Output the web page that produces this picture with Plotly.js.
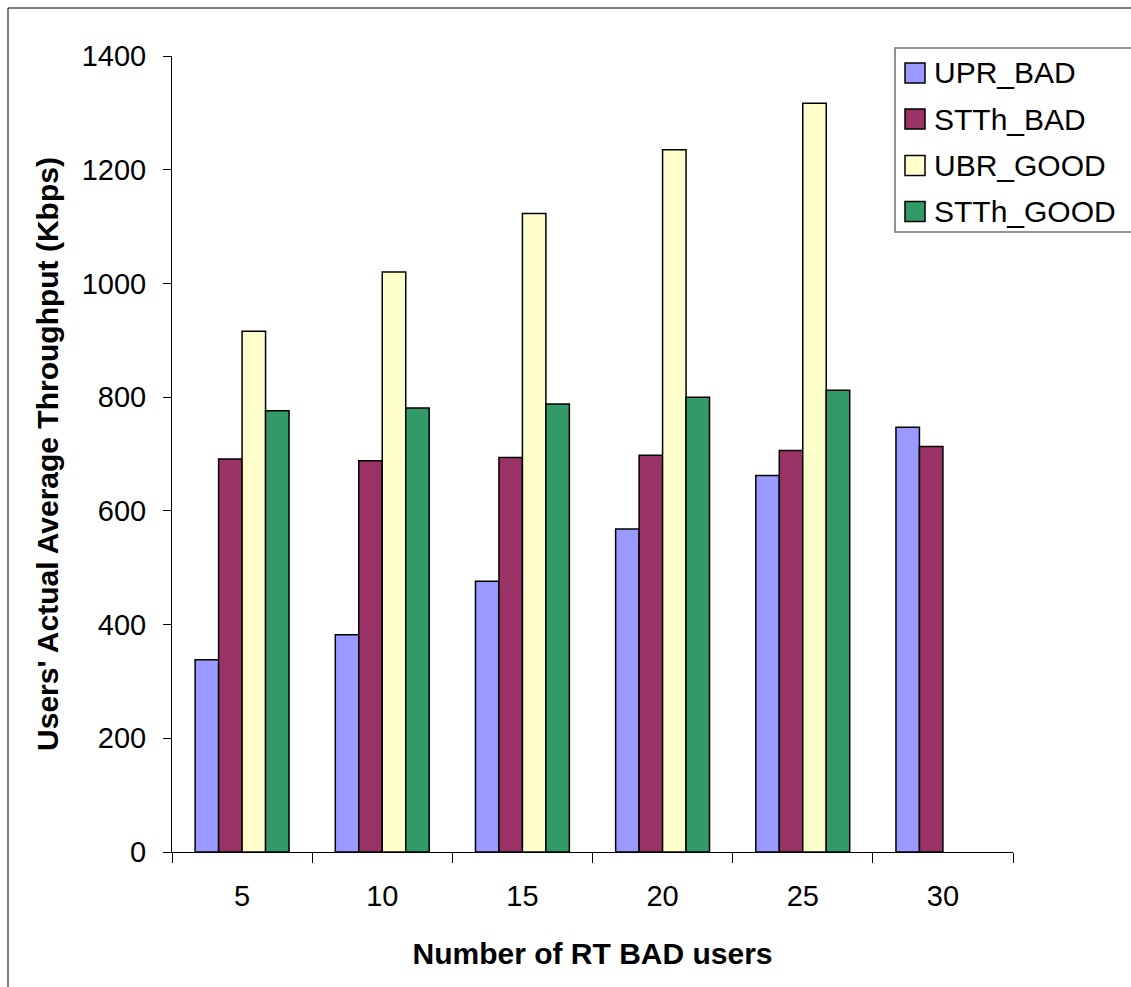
<!DOCTYPE html>
<html>
<head>
<meta charset="utf-8">
<script src="https://cdn.plot.ly/plotly-3.0.1.min.js"></script>
<style>
  html, body { margin: 0; padding: 0; background: #fff; }
  #chart { width: 1131px; height: 987px; }
</style>
</head>
<body>
<div id="chart"></div>
<script>
// Number of RT BAD users on the x axis
const categories = ['5', '10', '15', '20', '25', '30'];

// Series names and values (Kbps)
const seriesNames = ['UPR_BAD', 'STTh_BAD', 'UBR_GOOD', 'STTh_GOOD'];
const uprBad   = [338, 382, 476, 568, 662, 747];
const stthBad  = [691, 688, 694, 698, 706, 713];
const ubrGood  = [916, 1020, 1123, 1235, 1317, null];
const stthGood = [776, 781, 788, 800, 812, null];

const yTickVals = [0, 200, 400, 600, 800, 1000, 1200, 1400];

const colors = ['#9999FF', '#993366', '#FFFFCC', '#339966'];
const seriesValues = [uprBad, stthBad, ubrGood, stthGood];

// Page geometry (pixels)
const W = 1131, H = 987;
const M = { l: 172, r: 118, t: 56, b: 135 };
const plotW = W - M.l - M.r;
const plotH = H - M.t - M.b;
const px = x => (x - M.l) / plotW;          // pixel x -> paper x
const py = y => (H - M.b - y) / plotH;      // pixel y -> paper y

const FONT = '"Liberation Sans", Arial, Helvetica, sans-serif';

const traces = seriesNames.map((name, i) => ({
  type: 'bar',
  name: name,
  x: categories,
  y: seriesValues[i],
  marker: { color: colors[i], line: { color: '#000000', width: 1.5 } },
  showlegend: false
}));

// Outer frame and boxed legend on the right
const shapes = [
  { type: 'line', xref: 'paper', yref: 'paper', x0: px(8), x1: px(1140), y0: py(8), y1: py(8),
    line: { color: '#000', width: 1 } },
  { type: 'line', xref: 'paper', yref: 'paper', x0: px(8), x1: px(8), y0: py(8), y1: py(995),
    line: { color: '#000', width: 1 } },
  { type: 'rect', xref: 'paper', yref: 'paper', x0: px(895), x1: px(1145), y0: py(48), y1: py(232),
    line: { color: '#707070', width: 1.5 }, fillcolor: '#ffffff', layer: 'above' }
];
const annotations = [];
const rowY = [73, 119, 165.5, 211.5];
seriesNames.forEach((name, i) => {
  shapes.push({ type: 'rect', xref: 'paper', yref: 'paper',
    x0: px(905), x1: px(925), y0: py(rowY[i] - 10), y1: py(rowY[i] + 10),
    fillcolor: colors[i], line: { color: '#000', width: 1.5 }, layer: 'above' });
  annotations.push({ xref: 'paper', yref: 'paper', x: px(932), y: py(rowY[i]),
    xanchor: 'left', yanchor: 'middle', showarrow: false, text: name,
    font: { family: FONT, size: 30, color: '#000' } });
});

const layout = {
  width: W, height: H,
  margin: M,
  paper_bgcolor: '#ffffff',
  plot_bgcolor: '#ffffff',
  font: { family: FONT, color: '#000' },
  barmode: 'group',
  bargap: 0.33,
  bargroupgap: 0,
  showlegend: false,
  xaxis: {
    type: 'category',
    tickson: 'boundaries',
    ticks: 'outside', ticklen: 10, tickcolor: '#000', tickwidth: 1,
    showline: true, linecolor: '#000', linewidth: 1,
    showgrid: false, zeroline: false,
    tickfont: { family: FONT, size: 29, color: '#000' },
    ticklabelstandoff: 18,
    title: { text: '<b>Number of RT BAD users</b>', font: { family: FONT, size: 30, color: '#000' }, standoff: 32 }
  },
  yaxis: {
    range: [0, 1400],
    tickvals: yTickVals,
    ticktext: yTickVals.map(String),
    ticks: 'outside', ticklen: 8, tickcolor: '#000', tickwidth: 1,
    showline: true, linecolor: '#000', linewidth: 1,
    showgrid: false, zeroline: false,
    tickfont: { family: FONT, size: 29, color: '#000' },
    ticklabelstandoff: 11,
    title: { text: '<b>Users\' Actual Average Throughput (Kbps)</b>', font: { family: FONT, size: 30, color: '#000' }, standoff: 14 }
  },
  shapes: shapes,
  annotations: annotations
};

Plotly.newPlot('chart', traces, layout, { displayModeBar: false, staticPlot: true });
</script>
</body>
</html>
